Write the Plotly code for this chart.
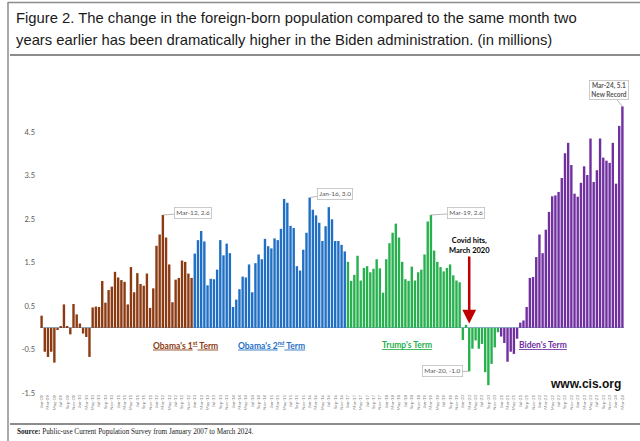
import plotly.graph_objects as go

# ---------------- data (millions) ----------------
month_names = ["Jan", "Feb", "Mar", "Apr", "May", "Jun", "Jul", "Aug", "Sep", "Oct", "Nov", "Dec"]
months = []
for yr in range(2009, 2025):
    for m in month_names:
        months.append(f"{m}-{yr % 100:02d}")
months = months[:183]  # Jan-09 .. Mar-24

obama1 = [0.28, -0.55, -0.67, -0.55, -0.80, -0.05, 0.02, 0.54, 0.03, -0.15,
          0.55, 0.31, 0.10, -0.13, -0.21, -0.67, 0.47, 0.49, 0.48, 1.08,
          0.58, 0.87, 0.95, 1.29, 1.16, 1.10, 1.06, 0.54, 1.40, 0.82,
          1.26, 1.01, 0.97, 1.25, 0.46, 0.91, 1.89, 2.15, 2.60, 2.08,
          1.46, 0.59, 1.11, 1.15, 1.55, 1.52, 1.25, 1.15]
obama2 = [1.71, 2.02, 2.23, 1.99, 0.98, 1.13, 1.12, 1.34, 2.02, 1.67,
          1.94, 1.72, 0.48, 0.65, 0.89, 1.18, 1.16, 1.46, 0.82, 1.49,
          1.69, 1.58, 2.05, 1.88, 1.83, 2.06, 2.02, 2.28, 2.97, 2.88,
          2.35, 2.30, 1.42, 1.32, 1.80, 2.19, 3.00, 2.72, 2.59, 2.42,
          2.00, 2.34, 2.78, 2.50, 2.00, 2.00, 1.91, 1.76]
trump = [1.52, 1.08, 1.22, 1.66, 1.09, 1.38, 1.42, 1.28, 1.36, 1.58,
         1.37, 0.81, 1.58, 1.95, 2.19, 2.40, 2.08, 1.52, 1.12, 1.08,
         1.41, 1.09, 1.28, 1.34, 1.69, 2.45, 2.60, 1.78, 1.52, 1.40,
         1.30, 1.38, 1.46, 1.21, 1.09, 1.05, -0.28, 0.07, -1.00, -0.48,
         -0.29, -0.48, -0.37, -1.02, -1.32, -0.83, -0.45, -0.10]
biden = [-0.20, -0.35, -0.78, -0.55, -0.60, -0.25, 0.12, 0.17, 0.48, 1.15,
         1.17, 1.63, 2.15, 1.72, 2.26, 2.67, 3.03, 3.05, 3.13, 3.45,
         4.02, 4.26, 3.75, 3.09, 3.02, 3.34, 3.72, 3.52, 4.36, 3.36,
         3.63, 4.36, 3.92, 3.85, 3.80, 4.26, 3.32, 4.65, 5.10]

y_ticks = [-1.5, -0.5, 0.5, 1.5, 2.5, 3.5, 4.5]
y_tick_text = ["-1.5", "-0.5", "0.5", "1.5", "2.5", "3.5", "4.5"]

terms = [
    ("Obama's 1<sup>st</sup> Term", obama1, "#8B3A12"),
    ("Obama's 2<sup>nd</sup> Term", obama2, "#1F6FC5"),
    ("Trump's Term", trump, "#27B04E"),
    ("Biden's Term", biden, "#7030A0"),
]

# ---------------- layout geometry ----------------
W, H = 640, 441
L, R, T, B = 40, 16, 89, 48
PW, PH = W - L - R, H - T - B


def px(x):
    return (x - L) / PW


def py(y):
    return (H - B - y) / PH


fig = go.Figure()
start = 0
for name, vals, col in terms:
    fig.add_trace(go.Bar(
        x=months[start:start + len(vals)], y=vals, name=name,
        marker=dict(color=col, line=dict(width=0)), showlegend=False,
    ))
    start += len(vals)

fig.update_layout(
    width=W, height=H,
    margin=dict(l=L, r=R, t=T, b=B),
    paper_bgcolor="white", plot_bgcolor="white",
    barmode="relative", bargap=0.25,
    font=dict(family="Lato, Liberation Sans, sans-serif"),
    xaxis=dict(
        type="category", categoryorder="array", categoryarray=months,
        range=[-0.5, len(months) - 0.5],
        tickmode="array", tickvals=months[::2], ticktext=months[::2],
        tickangle=-90, tickfont=dict(size=4.5, color="#808080"),
        showgrid=False, showline=False, ticks="", zeroline=False,
    ),
    yaxis=dict(
        range=[-1.5, 5.5], tickmode="array", tickvals=y_ticks, ticktext=y_tick_text,
        tickfont=dict(size=7.5, color="#595959"), ticklabelstandoff=4,
        showgrid=False, showline=False, ticks="",
        zeroline=True, zerolinecolor="#8FB0CC", zerolinewidth=1,
    ),
)

# term labels
term_x = [151, 271, 407, 569]
for (name, vals, col), tx in zip(terms, term_x):
    fig.add_annotation(
        x=px(tx), xref="paper", y=-0.4, yref="y",
        text=f"<b><u>{name}</u></b>", showarrow=False,
        font=dict(size=8.5, color=col, family="Lato"),
    )

# callouts
callouts = [
    ("Mar-12", 2.6, "Mar-12, 2.6", 30, -2),
    ("Jan-16", 3.0, "Jan-16, 3.0", 25, -4),
    ("Mar-19", 2.6, "Mar-19, 2.6", 35, -2),
    ("Mar-20", -1.0, "Mar-20, -1.0", -27, 0),
    ("Mar-24", 5.1, "<b>Mar-24, 5.1<br>New Record</b>", -13, -16),
]
for cx, cy, txt, ax, ay in callouts:
    fig.add_annotation(
        x=cx, y=cy, xref="x", yref="y", text=txt,
        showarrow=True, arrowhead=0, arrowwidth=0.8, arrowcolor="#A6A6A6",
        ax=ax, ay=ay, font=dict(size=6.5, color="#595959", family="Lato"),
        bgcolor="white", bordercolor="#BFBFBF", borderwidth=0.8, borderpad=1.5,
    )

# covid arrow
fig.add_annotation(
    x="Mar-20", y=0.1, xref="x", yref="y",
    text="<b>Covid hits,<br>March 2020</b>",
    showarrow=True, arrowhead=2, arrowsize=1.1, arrowwidth=2.5, arrowcolor="#C00000",
    ax=0, ay=-78, font=dict(size=7.5, color="#000000", family="Lato"),
)

# www.cis.org
fig.add_annotation(
    x=px(623), y=py(384), xref="paper", yref="paper", xanchor="right", yanchor="middle",
    text="<b>www.cis.org</b>", showarrow=False,
    font=dict(size=12, color="#111111", family="Liberation Sans"),
)

# title
for i, line in enumerate([
    "Figure 2. The change in the foreign-born population compared to the same month two",
    "years earlier has been dramatically higher in the Biden administration. (in millions)",
]):
    fig.add_annotation(
        x=px(14), y=py(18 + i * 21.5), xref="paper", yref="paper",
        xanchor="left", yanchor="middle", text=line, showarrow=False,
        font=dict(size=14.8, color="#1a1a1a", family="Liberation Sans"),
    )

# source
fig.add_annotation(
    x=px(15), y=py(432), xref="paper", yref="paper", xanchor="left", yanchor="middle",
    text="<b>Source:</b> Public-use Current Population Survey from January 2007 to March 2024.",
    showarrow=False, font=dict(size=7.2, color="#222222", family="Liberation Serif"),
)

# frame lines
fig.add_shape(type="line", xref="paper", yref="paper", x0=px(8), x1=px(8), y0=py(2), y1=py(441),
              line=dict(color="#8C8C8C", width=1.5))
fig.add_shape(type="line", xref="paper", yref="paper", x0=px(8), x1=px(640), y0=py(2.5), y1=py(2.5),
              line=dict(color="#8C8C8C", width=1.5))
fig.add_shape(type="line", xref="paper", yref="paper", x0=px(10), x1=px(640), y0=py(55), y1=py(55),
              line=dict(color="#666666", width=1.5))
fig.add_shape(type="line", xref="paper", yref="paper", x0=px(10), x1=px(640), y0=py(424), y1=py(424),
              line=dict(color="#666666", width=1.5))

fig.write_html(
    "out.html",
    config={"displayModeBar": False},
    post_script="document.body.style.margin='0';document.body.style.overflow='hidden';",
)
